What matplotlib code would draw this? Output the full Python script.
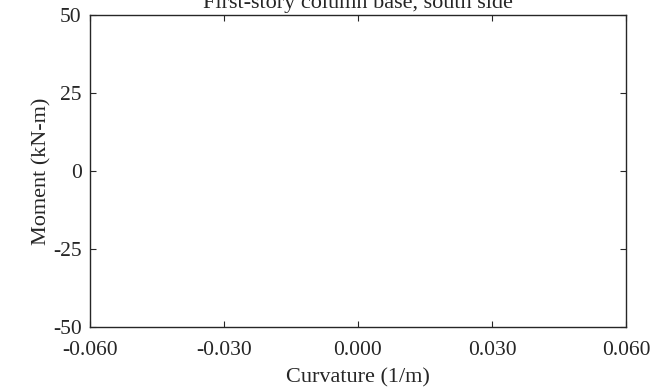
import matplotlib
matplotlib.use("Agg")
import matplotlib.pyplot as plt

xticks = [-0.060, -0.030, 0.000, 0.030, 0.060]
yticks = [-50, -25, 0, 25, 50]
xlabel = "Curvature (1/m)"
ylabel = "Moment (kN-m)"
title = "First-story column base, south side"

plt.rcParams['font.family'] = ['Liberation Serif', 'DejaVu Serif']
fig = plt.figure(figsize=(6.54, 3.87), dpi=100)
ax = fig.add_axes([90/654, 1-327/387, (626-90)/654, (327-15)/387])
ax.set_xlim(xticks[0], xticks[-1])
ax.set_ylim(yticks[0], yticks[-1])
ax.set_xticks(xticks)
ax.set_xticklabels([f"{v:.3f}" for v in xticks])
ax.set_yticks(yticks)
ax.set_yticklabels([str(v) for v in yticks])
ax.tick_params(direction='in', top=True, right=True, labelsize=15.5, length=4, pad=6, color='#262626', labelcolor='#262626')
ax.tick_params(axis='x', pad=10)
for s in ax.spines.values():
    s.set_linewidth(1.0)
    s.set_color('#262626')
ax.set_xlabel(xlabel, fontsize=16, labelpad=6, color='#262626')
ax.set_ylabel(ylabel, fontsize=16, labelpad=1, color='#262626')
ax.set_title(title, fontsize=16, pad=5, color='#262626')
fig.savefig("out.png", dpi=100)
